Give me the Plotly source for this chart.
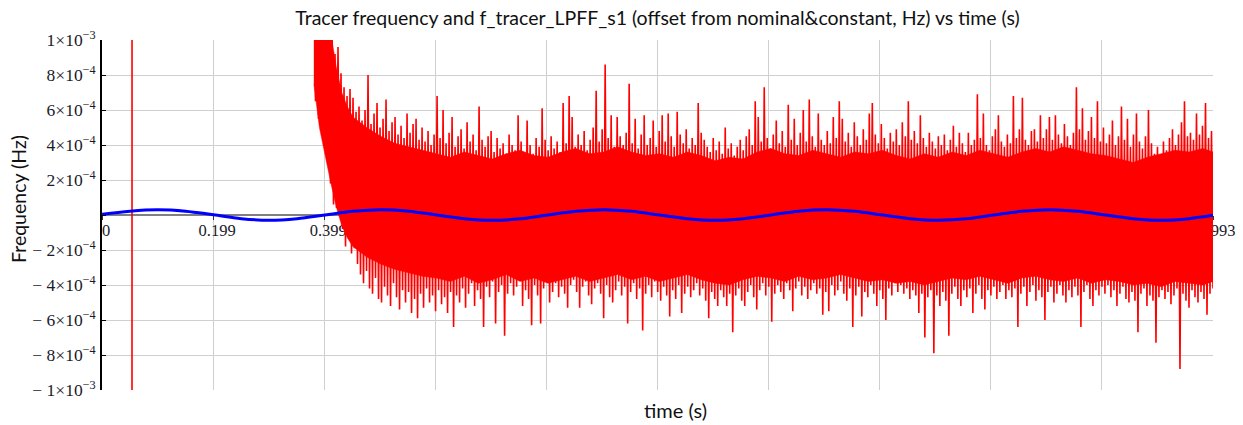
import numpy as np
import plotly.graph_objects as go

# ---------------- text ----------------
title_text = "Tracer frequency and f_tracer_LPFF_s1 (offset from nominal&constant, Hz) vs time (s)"
x_title = "time (s)"
y_title = "Frequency (Hz)"

# ---------------- axes ----------------
x_tick_vals = [0, 0.1993, 0.3986, 0.5979, 0.7972, 0.9965, 1.1958, 1.3951, 1.5944, 1.7937, 1.993]
x_tick_text = ["0", "0.199", "0.399", "0.598", "0.797", "0.996", "1.196", "1.395", "1.594", "1.794", "1.993"]
y_tick_vals = [-1e-3, -8e-4, -6e-4, -4e-4, -2e-4, 0, 2e-4, 4e-4, 6e-4, 8e-4, 1e-3]
y_tick_text = ["\u2212 1\u00d710<sup>\u22123</sup>", "\u2212 8\u00d710<sup>\u22124</sup>",
               "\u2212 6\u00d710<sup>\u22124</sup>", "\u2212 4\u00d710<sup>\u22124</sup>",
               "\u2212 2\u00d710<sup>\u22124</sup>", "",
               "2\u00d710<sup>\u22124</sup>", "4\u00d710<sup>\u22124</sup>",
               "6\u00d710<sup>\u22124</sup>", "8\u00d710<sup>\u22124</sup>",
               "1\u00d710<sup>\u22123</sup>"]

# ---------------- f_tracer_LPFF_s1 (blue), values in 1e-5 Hz ----------------
blue_t = [0.00, 0.05, 0.10, 0.15, 0.20, 0.25, 0.30, 0.35, 0.40, 0.45,
          0.50, 0.55, 0.60, 0.65, 0.70, 0.75, 0.80, 0.85, 0.90, 0.95,
          1.00, 1.05, 1.10, 1.15, 1.20, 1.25, 1.30, 1.35, 1.40, 1.45,
          1.50, 1.55, 1.60, 1.65, 1.70, 1.75, 1.80, 1.85, 1.90, 1.95, 1.993]
blue_v_1e5 = [0.4, 2.2, 3.0, 2.2, 0.1, -2.1, -3.0, -2.1, 0.0, 2.1,
              3.0, 2.2, 0.0, -2.1, -3.0, -2.2, 0.0, 2.1, 3.0, 2.1,
              0.0, -2.1, -3.0, -2.1, 0.0, 2.2, 3.0, 2.1, 0.0, -2.1,
              -3.0, -2.2, 0.0, 2.1, 3.0, 2.1, 0.0, -2.1, -3.0, -2.1, -0.2]

# ---------------- tracer frequency (red) ----------------
# early part: one full-height excursion, then off-scale until ~0.38 s
red_lead_t = [0.0538, 0.0539, 0.378]
red_lead_v = [-5e-3, 5e-3, 5e-3]

# dense solid core of the noise band (values in 1e-4 Hz)
red_core_t_early = [0.380, 0.390, 0.400, 0.410, 0.420, 0.430, 0.440, 0.450,
                    0.475, 0.500, 0.525, 0.550, 0.575]
red_core_upper_early_1e4 = [14, 14, 12, 10.5, 8.5, 7.0, 6.2, 5.6, 5.0, 4.5, 4.1, 3.9, 3.7]
red_core_lower_early_1e4 = [7.5, 5.0, 3.5, 1.9, 0.5, -0.6, -1.3, -1.8, -2.4, -2.8, -3.1, -3.3, -3.5]
red_core_t_steady = [round(0.600 + 0.025 * i, 3) for i in range(56)] + [1.993]
red_core_upper_steady_1e4 = [
    3.5, 3.3, 3.6, 3.4, 3.2, 3.5, 3.7, 3.4, 3.3, 3.6,
    3.8, 3.5, 3.6, 3.9, 3.6, 3.4, 3.5, 3.3, 3.6, 3.4,
    3.1, 3.3, 3.2, 3.6, 3.8, 3.5, 3.4, 3.7, 3.5, 3.3,
    3.6, 3.5, 3.7, 3.4, 3.2, 3.5, 3.3, 3.6, 3.4, 3.7,
    3.5, 3.3, 3.6, 3.8, 3.6, 3.9, 3.7, 3.5, 3.4, 3.2,
    3.0, 3.3, 3.5, 3.7, 3.6, 3.8, 3.6]
red_core_lower_steady_1e4 = [
    -3.6, -3.8, -3.5, -3.9, -3.7, -3.4, -3.8, -3.6, -3.9, -3.7,
    -3.5, -3.8, -3.6, -3.4, -3.7, -3.5, -3.8, -3.6, -3.4, -3.7,
    -3.9, -4.0, -3.7, -3.5, -3.6, -3.8, -3.5, -3.7, -3.6, -3.4,
    -3.6, -3.8, -3.7, -3.9, -3.8, -4.0, -3.8, -3.6, -3.7, -3.5,
    -3.7, -3.9, -3.6, -3.5, -3.7, -3.8, -3.6, -3.9, -3.7, -3.8,
    -4.0, -3.9, -4.1, -3.8, -3.9, -4.0, -3.8]

# spikes: alternating peaks (upper) and troughs (lower), values in 1e-4 Hz
red_t_start, red_t_end = 0.3803, 1.993
red_upper_1e4 = [
    15, 18, 14, 16, 13, 12.5, 11, 9.2, 9.6, 8.1,
    7.3, 6.8, 7.2, 6.7, 5.9, 6.2, 5.4, 6.0, 8.0, 5.2,
    5.8, 6.4, 5.0, 5.5, 6.6, 4.8, 5.3, 5.6, 4.6, 5.1,
    4.4, 5.8, 4.7, 5.2, 5.5, 4.3, 5.0, 4.2, 4.8, 4.0,
    4.6, 6.8, 4.4, 6.0, 4.1, 4.7, 5.6, 3.9, 4.5, 4.9,
    3.8, 5.3, 4.2, 4.6, 3.7, 6.2, 4.3, 3.9, 4.5, 4.8,
    3.6, 4.4, 3.8, 4.1, 3.5, 4.6, 4.0, 3.7, 5.7, 4.2,
    3.6, 5.4, 4.0, 3.5, 4.4, 3.9, 6.1, 4.3, 3.7, 4.5,
    3.8, 4.2, 3.6, 6.4, 4.1, 6.8, 5.6, 3.9, 4.6, 4.0,
    4.8, 3.7, 4.3, 5.0, 7.1, 4.2, 4.9, 8.6, 4.4, 5.7,
    3.9, 5.6, 4.5, 4.0, 4.7, 7.5, 4.1, 5.5, 3.8, 4.6,
    5.7, 4.0, 4.4, 5.4, 3.9, 4.8, 5.7, 4.2, 5.8, 4.5,
    3.9, 5.9, 4.6, 4.1, 4.9, 3.8, 4.4, 4.0, 6.4, 4.7,
    4.3, 3.9, 3.6, 4.4, 3.7, 4.2, 3.5, 5.0, 3.8, 4.1,
    3.4, 3.9, 4.3, 3.7, 4.5, 4.9, 4.0, 6.5, 5.6, 4.2,
    7.3, 4.4, 3.8, 4.6, 5.4, 4.1, 4.8, 3.9, 6.3, 4.3,
    5.5, 4.0, 4.7, 6.0, 4.2, 6.6, 4.5, 3.9, 5.8, 4.3,
    4.0, 4.8, 4.1, 5.6, 4.4, 6.5, 5.5, 4.2, 4.7, 3.9,
    5.3, 4.5, 4.0, 4.9, 4.3, 5.8, 6.4, 4.6, 4.1, 5.2,
    4.4, 3.8, 4.7, 4.2, 4.9, 4.0, 5.3, 4.5, 6.5, 4.3,
    4.8, 4.1, 5.7, 4.4, 3.9, 4.7, 4.2, 3.8, 4.5, 4.0,
    4.6, 3.7, 4.3, 5.1, 3.9, 4.7, 4.1, 3.6, 4.7, 4.0,
    4.3, 6.9, 4.4, 5.8, 4.0, 3.7, 4.5, 4.9, 5.7, 4.2,
    3.9, 4.6, 4.1, 6.8, 4.4, 4.9, 6.7, 4.3, 4.0, 4.8,
    4.9, 4.2, 5.7, 4.4, 4.9, 5.6, 4.3, 5.7, 4.6, 4.1,
    5.2, 4.5, 4.0, 4.7, 7.3, 4.9, 6.1, 4.3, 4.8, 5.6,
    4.4, 6.5, 4.2, 5.0, 4.1, 4.6, 5.4, 4.0, 4.5, 6.2,
    4.3, 5.5, 3.9, 4.6, 5.8, 4.2, 3.8, 4.5, 6.0, 4.1,
    3.5, 3.9, 3.4, 4.2, 3.7, 4.4, 4.9, 4.0, 4.6, 5.3,
    6.5, 4.5, 4.7, 4.3, 5.8, 4.6, 5.1, 6.4, 4.4, 4.8,
]
red_lower_1e4 = [
    6.5, 5.5, 4.8, 3.9, 3.0, 1.8, 0.6, 0.4, 0.0, -0.8,
    -1.8, -1.0, -2.2, -1.9, -2.8, -3.4, -3.9, -3.2, -4.2, -4.5,
    -3.6, -4.8, -5.0, -4.1, -4.6, -5.2, -3.9, -4.7, -5.4, -4.3,
    -5.0, -4.4, -5.6, -4.8, -5.9, -4.5, -5.3, -4.2, -5.0, -4.6,
    -5.5, -4.3, -5.1, -4.7, -5.6, -4.4, -6.4, -4.6, -5.0, -4.2,
    -5.3, -4.5, -3.9, -5.2, -4.3, -4.8, -6.4, -4.1, -4.7, -3.8,
    -6.2, -4.4, -4.0, -6.9, -4.5, -3.9, -4.6, -4.1, -3.7, -5.2,
    -4.3, -4.8, -6.3, -4.0, -4.6, -6.2, -4.2, -3.8, -5.0, -4.4,
    -3.9, -4.7, -4.1, -4.5, -5.3, -4.0, -3.7, -4.4, -5.3, -4.1,
    -3.8, -4.6, -5.1, -4.2, -3.9, -4.5, -5.9, -4.0, -4.7, -5.0,
    -4.3, -3.8, -4.6, -4.1, -6.2, -4.4, -3.9, -4.8, -4.2, -6.6,
    -4.5, -4.0, -4.7, -3.8, -4.4, -4.9, -4.1, -4.6, -5.8, -4.3,
    -4.8, -4.0, -5.6, -4.5, -4.1, -4.7, -4.3, -3.9, -4.6, -4.2,
    -4.9, -5.9, -4.4, -4.8, -5.2, -4.3, -4.7, -5.2, -4.5, -6.7,
    -4.6, -4.2, -4.9, -5.2, -4.4, -4.0, -4.7, -5.4, -4.3, -3.9,
    -4.6, -4.1, -6.1, -4.5, -4.0, -4.4, -4.8, -3.9, -4.3, -5.5,
    -4.2, -3.8, -4.6, -4.1, -4.8, -4.3, -3.9, -4.5, -4.2, -5.7,
    -4.4, -5.5, -4.0, -4.6, -4.3, -3.8, -4.5, -4.9, -4.2, -6.4,
    -4.6, -4.1, -5.8, -4.4, -4.7, -4.0, -4.5, -5.2, -4.3, -4.8,
    -6.0, -4.2, -4.6, -3.9, -4.4, -4.0, -4.5, -4.2, -4.8, -4.3,
    -4.6, -5.6, -4.5, -7.0, -4.7, -4.3, -7.9, -4.6, -5.2, -4.4,
    -4.9, -6.9, -4.5, -4.1, -4.8, -5.2, -4.3, -4.7, -4.2, -5.6,
    -4.5, -4.0, -4.8, -5.4, -4.3, -4.6, -4.1, -4.8, -4.4, -4.0,
    -4.8, -4.3, -4.7, -4.2, -6.4, -4.5, -4.1, -5.2, -4.4, -4.0,
    -4.9, -4.3, -4.7, -6.0, -4.4, -4.1, -5.0, -4.5, -4.0, -4.6,
    -5.0, -4.3, -4.7, -4.1, -4.6, -6.4, -4.4, -4.0, -4.8, -5.2,
    -4.3, -4.6, -4.1, -4.5, -4.0, -4.7, -4.3, -5.2, -4.5, -4.1,
    -4.8, -5.0, -4.4, -4.9, -6.7, -4.5, -4.2, -5.2, -4.6, -4.9,
    -7.3, -4.7, -4.3, -4.8, -4.4, -5.1, -4.6, -4.2, -8.8, -4.5,
    -4.9, -5.3, -4.3, -4.7, -5.0, -4.4, -4.8, -5.7, -4.5, -4.2,
]
assert len(red_upper_1e4) == len(red_lower_1e4)

# interleave peaks and troughs on the sample grid
red_dense_v = []
for u, l in zip(red_upper_1e4, red_lower_1e4):
    red_dense_v += [u * 1e-4, l * 1e-4]
red_dense_t = np.linspace(red_t_start, red_t_end, len(red_dense_v))
red_t = list(red_lead_t) + list(red_dense_t)
red_v = list(red_lead_v) + red_dense_v

core_t = red_core_t_early + red_core_t_steady
core_up = red_core_upper_early_1e4 + red_core_upper_steady_1e4
core_lo = red_core_lower_early_1e4 + red_core_lower_steady_1e4
core_x = core_t + core_t[::-1]
core_y = [v * 1e-4 for v in core_up] + [v * 1e-4 for v in core_lo[::-1]]

blue_v = [v * 1e-5 for v in blue_v_1e5]

# ---------------- figure ----------------
fig = go.Figure()
fig.add_trace(go.Scatter(x=core_x, y=core_y, mode="lines", fill="toself",
                         fillcolor="#ff0000", line=dict(color="#ff0000", width=0.5),
                         hoverinfo="skip", showlegend=False))
fig.add_trace(go.Scatter(x=red_t, y=red_v, mode="lines",
                         line=dict(color="#ff0000", width=1.6),
                         hoverinfo="skip", showlegend=False))
fig.add_trace(go.Scatter(x=blue_t, y=blue_v, mode="lines",
                         line=dict(color="#0000ff", width=3, shape="spline"),
                         hoverinfo="skip", showlegend=False))

serif = "Liberation Serif, Times New Roman, serif"
sans = "Lato, Open Sans, sans-serif"

# the page body adds an 8 px offset; margins compensate for it
W, H = 1235, 417
fig.update_layout(
    width=W, height=H, autosize=False,
    margin=dict(l=94, r=30, t=32, b=35),
    paper_bgcolor="white", plot_bgcolor="white",
    title=dict(text=title_text, x=0.5, xref="paper", xanchor="center",
               y=1 - 10 / H, yref="container", yanchor="middle",
               font=dict(family=sans, size=19.5, color="#111111")),
    xaxis=dict(range=[0, 1.993], anchor="free", position=0.5,
               tickmode="array", tickvals=x_tick_vals, ticktext=x_tick_text,
               showgrid=True, gridcolor="#cfcfcf", gridwidth=1,
               zeroline=False, showline=True, linecolor="#808080", linewidth=1.5,
               ticks="outside", ticklen=4, tickcolor="#333333",
               layer="below traces", automargin=False,
               ticklabelshift=4, ticklabelstandoff=-4,
               tickfont=dict(family=serif, size=16.5, color="#1a1a2a")),
    yaxis=dict(range=[-1e-3, 1e-3],
               tickmode="array", tickvals=y_tick_vals, ticktext=y_tick_text,
               showgrid=True, gridcolor="#cfcfcf", gridwidth=1,
               zeroline=False, showline=True, linecolor="#000000", linewidth=1.5,
               ticks="inside", ticklen=4, tickcolor="#000000",
               automargin=False, ticklabelstandoff=1,
               tickfont=dict(family=serif, size=17.5, color="#1a1a2a")),
    annotations=[
        dict(text=x_title, xref="paper", yref="paper",
             x=(675 - 102) / 1111, y=(390 - 410) / 350,
             xanchor="center", yanchor="middle", showarrow=False,
             font=dict(family=sans, size=20, color="#111111")),
        dict(text=y_title, xref="paper", yref="paper",
             x=(18 - 102) / 1111, y=(390 - 199) / 350, textangle=-90,
             xanchor="center", yanchor="middle", showarrow=False,
             font=dict(family=sans, size=19.5, color="#111111")),
    ],
)

fig.write_html("out.html", config={"displayModeBar": False})
